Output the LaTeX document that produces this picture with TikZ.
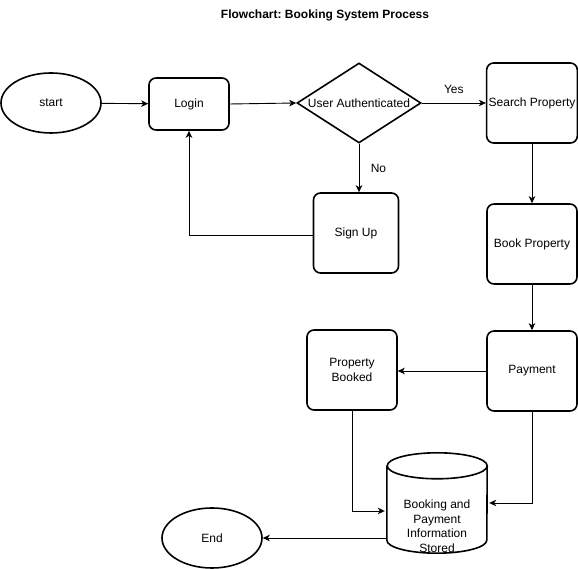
\documentclass[tikz,border=0pt]{standalone}
\usepackage{fontspec}
\setmainfont{Liberation Sans}
\usepackage{tikz}
\usetikzlibrary{calc}
\usetikzlibrary{shapes.geometric}
\usetikzlibrary{arrows.meta}
\frenchspacing
\tikzset{
  every node/.style={font=\fontsize{12}{14.5}\selectfont},
  procbox/.style={draw, line width=1.6pt, rounded corners=7pt, align=center, inner sep=2pt},
  termnode/.style={draw, ellipse, line width=1.6pt, minimum width=100, minimum height=60, inner sep=0pt},
  decide/.style={draw, diamond, line width=1.6pt, aspect=1.55, minimum width=124, minimum height=80, inner sep=0pt},
  flow/.style={line width=0.9pt, -{Stealth[length=7pt,width=6.5pt,inset=2pt]}},
}

\begin{document}
\begin{tikzpicture}[x=1pt,y=1pt]
\useasboundingbox (0,0) rectangle (578,569);
%title
\node[font=\bfseries\fontsize{12}{14}\selectfont] (title) at (325,554) {Flowchart: Booking System Process};

%nodes
\node[termnode] (start) at (51,466) {start};
\node[procbox, minimum width=80, minimum height=52] (login) at (189,465) {Login};
\node[decide] (auth) at (359,466) {User Authenticated};
\node[procbox, minimum width=90, minimum height=80] (search) at (532,466) {Search Property};
\node[procbox, minimum width=85, minimum height=80] (signup) at (356,336) {Sign Up};
\node[procbox, minimum width=90, minimum height=80] (book) at (532,325) {Book Property};
\node[procbox, minimum width=90, minimum height=80] (payment) at (532,198) {Payment};
\node[procbox, minimum width=90, minimum height=80] (booked) at (352,199) {Property\\Booked};
\node[termnode] (end) at (212,31) {End};

% storage cylinder
\node[minimum width=100, minimum height=100, inner sep=0pt] (db) at (437,66) {};
\draw[line width=1.6pt, fill=white] ($(db.north west)+(0,-13)$) -- ($(db.south west)+(0,13)$)
  arc[start angle=180, end angle=360, x radius=50, y radius=13]
  -- ($(db.north east)+(0,-13)$)
  arc[start angle=0, end angle=180, x radius=50, y radius=13]
  arc[start angle=180, end angle=360, x radius=50, y radius=13];
\node[align=center] (dbtext) at (437,43) {Booking and\\Payment\\Information\\Stored};

%edges
\draw[flow] (start) -- (login);
\draw[flow] (login.east) -- (auth.west);
\draw[flow] (auth.east) -- (search.west) node[midway, above=6pt] (yes) {Yes};
\draw[flow] (auth.south) -- (auth.south |- signup.north) node[midway, right=8pt] (no) {No};
\draw[flow] ($(signup.west)+(0,-2)$) -| (login.south);
\draw[flow] (search) -- (book);
\draw[flow] (book) -- (payment);
\draw[flow] (payment.west) -- (booked.east |- payment.west);
\draw[flow] (booked.south) |- ($(db.west)+(-2,-8)$);
\draw[flow] (payment.south) |- ($(db.east)+(2,0)$);
\draw[flow] ($(db.west)+(0,-35)$) -- (end.east);

\end{tikzpicture}
\end{document}
